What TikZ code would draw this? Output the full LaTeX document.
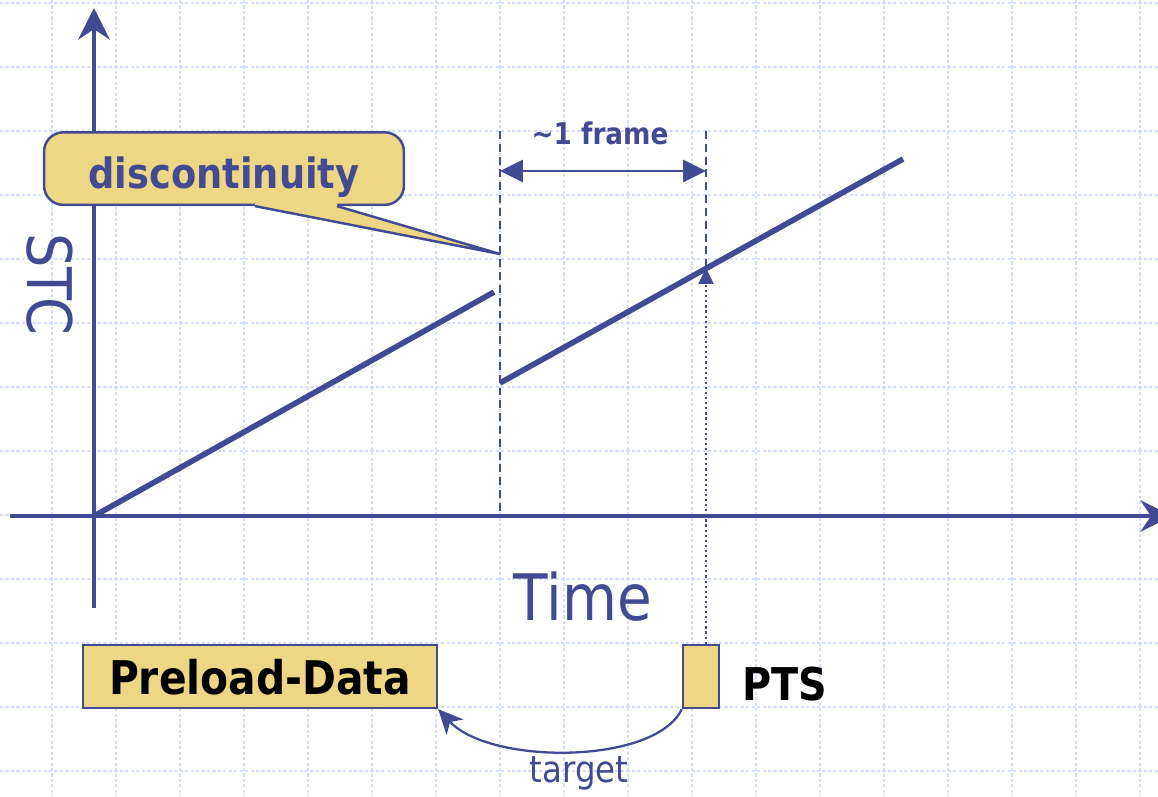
\documentclass[tikz,border=0pt]{standalone}
\usepackage{fontspec}
\setmainfont{DejaVu Sans}[FakeStretch=0.88]
\usetikzlibrary{arrows.meta,calc,positioning}
\definecolor{slideblue}{HTML}{414A92}
\definecolor{slideyellow}{HTML}{EDD785}
\definecolor{slidegrid}{HTML}{D3DEFA}

\begin{document}
\begin{tikzpicture}[
  x=0.02cm, y=-0.02cm,
  gridline/.style={slidegrid, line width=0.9pt, dash pattern=on 1.8pt off 1.3pt},
  axis/.style={slideblue, line width=1.8pt,
    -{Stealth[length=18pt,width=18pt,inset=6pt]}},
  stcline/.style={slideblue, line width=3.2pt},
  marker/.style={slideblue, line width=1.3pt, dash pattern=on 4.5pt off 2.8pt},
  box/.style={draw=slideblue, line width=1.4pt, fill=slideyellow, inner sep=0pt},
  lbl/.style={slideblue, inner sep=0pt}
]
\useasboundingbox (0,0) rectangle (1158,796);
\foreach \x in {52,116,...,1140} \draw[gridline] (\x,0) -- (\x,796);
\foreach \y in {3,67,...,771} \draw[gridline] (0,\y) -- (1158,\y);

\coordinate (origin) at (94,516);
\coordinate (ytop) at (94,8);
\coordinate (ybot) at (94,608);
\coordinate (xleft) at (10,516);
\coordinate (xright) at (1172,516);
\draw[axis] (ybot) -- (ytop);
\draw[axis] (xleft) -- (xright);

\coordinate (jump) at (494,292);
\coordinate (resume) at (500,383);
\coordinate (stcend) at (903,159);
\draw[stcline] (origin) -- (jump);
\draw[stcline] (resume) -- (stcend);

\coordinate (mark1top) at (500,131);
\coordinate (mark1bot) at (500,516);
\coordinate (mark2top) at (706,131);
\coordinate (ptshit) at (706,268);
\draw[marker] (mark1top) -- (mark1bot);
\draw[marker] (mark2top) -- (ptshit);
\coordinate (span1) at (500,171);
\coordinate (span2) at (706,171);
\draw[slideblue, line width=1.5pt,
  {Triangle[length=13pt,width=12.5pt]}-{Triangle[length=13pt,width=12.5pt]}]
  (span1) -- (span2);
\node[lbl, font=\bfseries\fontsize{17}{20}\selectfont, anchor=base] (frame)
  at (600,144) {\textasciitilde 1 frame};

\node[box, rounded corners=11pt, minimum width=7.2cm, text height=31.7pt,
  text depth=9.6pt, text=slideblue, anchor=base,
  font=\bfseries\fontsize{23.8}{28}\selectfont] (disc) at (224,188) {discontinuity};
\coordinate (disctip) at (500,254);
\fill[slideyellow] ($(disc.south)+(31,-3)$) -- ($(disc.south)+(31,0)$)
  -- (disctip) -- ($(disc.south)+(113,0)$) -- ($(disc.south)+(113,-3)$) -- cycle;
\draw[slideblue, line width=1.4pt] ($(disc.south)+(31,0)$) -- (disctip)
  -- ($(disc.south)+(113,0)$);

\node[lbl, font=\fontsize{35}{40}\selectfont, rotate=-90] (stc) at (50,284) {STC};
\node[lbl, font=\fontsize{36.5}{40}\selectfont, anchor=base] (time) at (583,620) {Time};

\node[box, minimum width=7.08cm, text height=27.8pt, text depth=7.9pt, anchor=base,
  font=\bfseries\fontsize{26.4}{30}\selectfont] (preload) at (260,694) {Preload-Data};
\node[box, minimum width=0.72cm, minimum height=1.26cm] (pts) at (701,676.5) {};
\node[font=\bfseries\fontsize{25.7}{30}\selectfont, anchor=base west, inner sep=0pt]
  (ptslabel) at (742,700) {PTS};

\draw[slideblue, line width=1.2pt, dash pattern=on 1.2pt off 1.7pt,
  -{Triangle[length=9pt,width=8.5pt]}] (pts.north -| ptshit) -- (ptshit);
\draw[slideblue, line width=1.3pt, -{Stealth[length=14pt,width=13pt,inset=4pt]}]
  (pts.south west) .. controls (655,765) and (490,765) .. (preload.south east);
\node[lbl, font=\fontsize{21}{24}\selectfont, anchor=base] (target) at (579,782) {target};
\end{tikzpicture}
\end{document}
